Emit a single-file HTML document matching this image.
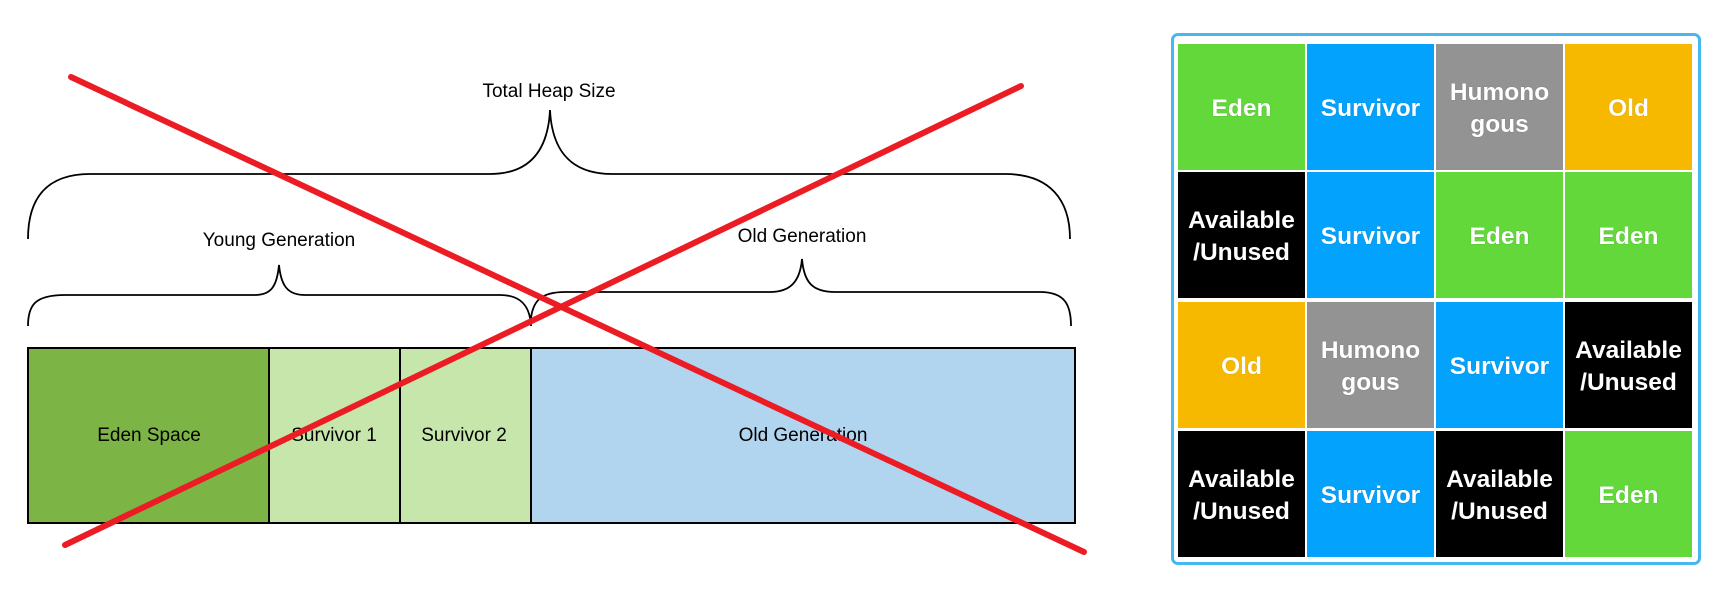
<!DOCTYPE html>
<html><head><meta charset="utf-8"><style>
html,body{margin:0;padding:0;background:#fff;}
body{width:1718px;height:590px;position:relative;overflow:hidden;font-family:"Liberation Sans",sans-serif;}
.panel{position:absolute;left:1171px;top:33px;width:530px;height:532px;border:3px solid #45b8f2;border-radius:7px;box-sizing:border-box;}
.c{position:absolute;width:127px;height:126px;display:flex;align-items:center;justify-content:center;text-align:center;color:#fff;font-weight:bold;font-size:24.5px;line-height:32px;padding-top:4px;box-sizing:border-box;text-shadow:0 0 1px rgba(0,0,0,0.3);}
.g{background:#62d83a}.b{background:#03a2fd}.y{background:#939393}.o{background:#f7b900}.k{background:#000}
</style></head><body>
<svg width="1150" height="590" style="position:absolute;left:0;top:0" font-family="Liberation Sans, sans-serif">
<rect x="28" y="348" width="241" height="175" fill="#7db446" stroke="#000" stroke-width="2"/>
<rect x="269" y="348" width="131" height="175" fill="#c6e6ab" stroke="#000" stroke-width="2"/>
<rect x="400" y="348" width="131" height="175" fill="#c6e6ab" stroke="#000" stroke-width="2"/>
<rect x="531" y="348" width="544" height="175" fill="#b2d5ef" stroke="#000" stroke-width="2"/>
<g font-size="19" fill="#000" text-anchor="middle">
<text x="149" y="441">Eden Space</text>
<text x="334" y="441">Survivor 1</text>
<text x="464" y="441">Survivor 2</text>
<text x="803" y="441">Old Generation</text>
<text x="549" y="97">Total Heap Size</text>
<text x="279" y="246">Young Generation</text>
<text x="802" y="242">Old Generation</text>
</g>
<g fill="none" stroke="#000" stroke-width="1.8">
<path d="M28 239 C28 200 45 174 90 174 L490 174 C530 174 548 150 550 110 C552 150 570 174 612 174 L1005 174 C1050 174 1070 200 1070 239"/>
<path d="M28 326 C28 305 35 295 65 295 L255 295 C272 295 277 285 279 265 C281 285 287 295 305 295 L500 295 C520 295 530 305 531 326"/>
<path d="M531 318 C533 302 540 292 565 292 L770 292 C790 292 800 282 802 259 C804 282 812 292 835 292 L1040 292 C1065 292 1071 305 1071 326"/>
</g>
<g stroke="#ec1c24" stroke-width="6" stroke-linecap="round">
<line x1="71" y1="77" x2="1084" y2="552"/>
<line x1="65" y1="545" x2="1021" y2="86"/>
</g>
</svg>
<div class="panel"></div>
<div class="c g" style="left:1178px;top:44px">Eden</div>
<div class="c b" style="left:1307px;top:44px">Survivor</div>
<div class="c y" style="left:1436px;top:44px">Humono<br>gous</div>
<div class="c o" style="left:1565px;top:44px">Old</div>
<div class="c k" style="left:1178px;top:172px">Available<br>/Unused</div>
<div class="c b" style="left:1307px;top:172px">Survivor</div>
<div class="c g" style="left:1436px;top:172px">Eden</div>
<div class="c g" style="left:1565px;top:172px">Eden</div>
<div class="c o" style="left:1178px;top:302px">Old</div>
<div class="c y" style="left:1307px;top:302px">Humono<br>gous</div>
<div class="c b" style="left:1436px;top:302px">Survivor</div>
<div class="c k" style="left:1565px;top:302px">Available<br>/Unused</div>
<div class="c k" style="left:1178px;top:431px">Available<br>/Unused</div>
<div class="c b" style="left:1307px;top:431px">Survivor</div>
<div class="c k" style="left:1436px;top:431px">Available<br>/Unused</div>
<div class="c g" style="left:1565px;top:431px">Eden</div>
</body></html>
